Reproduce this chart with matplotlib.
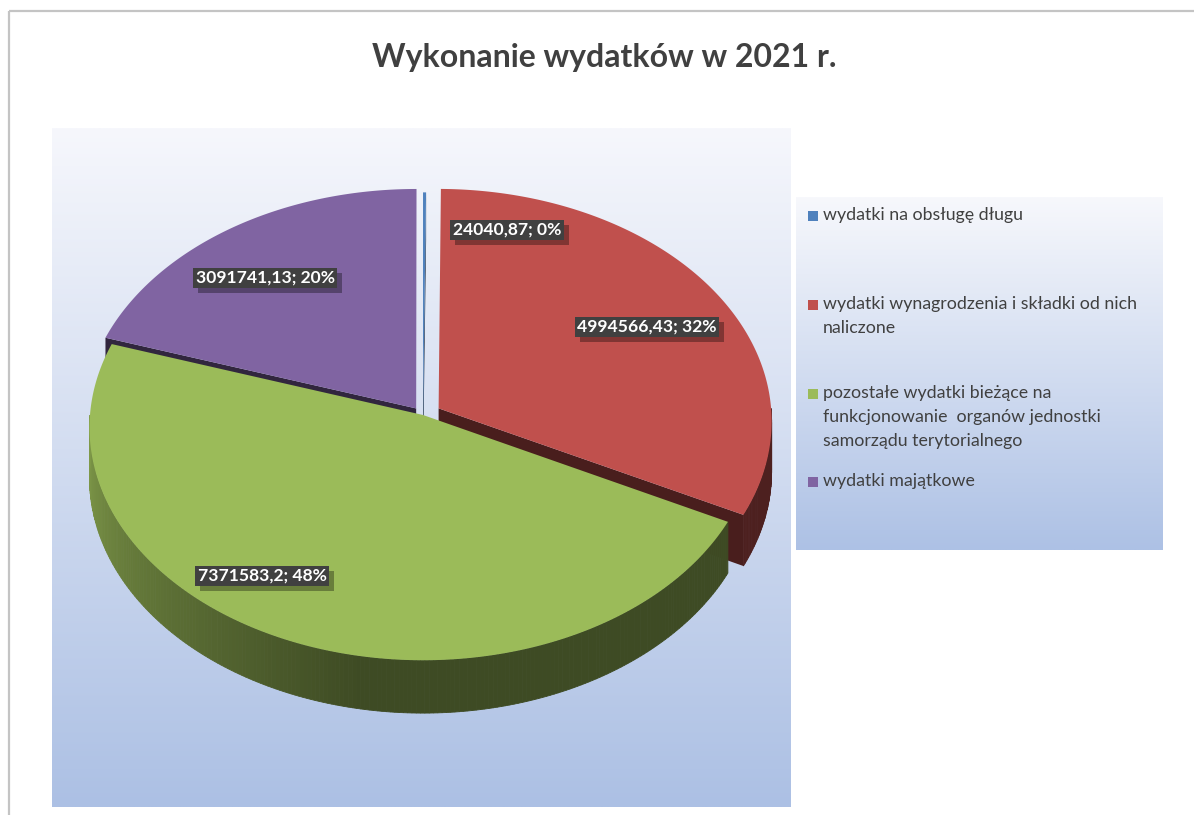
import numpy as np
import matplotlib
matplotlib.use("Agg")
import matplotlib.pyplot as plt
from matplotlib.patches import Polygon, Rectangle

plt.rcParams['font.family'] = ['Lato', 'DejaVu Sans']

# ---------------- data ----------------
title = "Wykonanie wydatków w 2021 r."
categories = [
    "wydatki na obsługę długu",
    "wydatki wynagrodzenia i składki od nich\nnaliczone",
    "pozostałe wydatki bieżące na\nfunkcjonowanie  organów jednostki\nsamorządu terytorialnego",
    "wydatki majątkowe",
]
values = [24040.87, 4994566.43, 7371583.2, 3091741.13]
value_labels = ["24040,87", "4994566,43", "7371583,2", "3091741,13"]
colors = ["#4f81bd", "#c0504d", "#9bbb59", "#8064a2"]
explode = [0.012, 0.055, 0.0, 0.035]

# ---------------- layout ----------------
W, H = 1194, 815
fig = plt.figure(figsize=(W / 100, H / 100), dpi=100)
ax = fig.add_axes([0, 0, 1, 1])
ax.set_xlim(0, W)
ax.set_ylim(H, 0)
ax.axis('off')

# outer chart border
ax.add_patch(Rectangle((9, 10.5), W + 20, H + 20, fill=False, ec="#c4c4c4", lw=1.6, zorder=0))

def vgrad(x0, x1, y0, y1, ctop, cbot, z=1):
    n = 256
    t = np.linspace(0, 1, n)[:, None]
    ctop = np.array(ctop) / 255.0
    cbot = np.array(cbot) / 255.0
    img = ctop[None, None, :] * (1 - t[:, :, None]) + cbot[None, None, :] * t[:, :, None]
    img = np.repeat(img, 2, axis=1)
    ax.imshow(img, extent=[x0, x1, y1, y0], aspect='auto', zorder=z, interpolation='bilinear')

# plot area gradient
vgrad(52, 791, 128, 807, (246, 247, 252), (172, 192, 228), z=1)
# legend gradient
vgrad(796, 1163, 197, 550, (247, 248, 252), (173, 193, 229), z=1)
ax.set_xlim(0, W)
ax.set_ylim(H, 0)

# ---------------- 3D pie geometry ----------------
CX, CY = 423, 415
RX, RY = 333, 232
K = 0.054
DEPTH = 50

def proj(t, z=0.0, ox=0.0, oy=0.0, r=1.0):
    X = r * np.sin(t) + ox
    Y = r * np.cos(t) + oy
    w = 1 + K * Y
    return CX + RX * X / w, CY - RY * Y / w + DEPTH * z / w

def rgb(c):
    return np.array(matplotlib.colors.to_rgb(c))

total = float(np.sum(values))
fr = np.array(values) / total
bounds = np.concatenate([[0], np.cumsum(fr)]) * 2 * np.pi

offs = []
for i in range(len(values)):
    mid = 0.5 * (bounds[i] + bounds[i + 1])
    offs.append((explode[i] * np.sin(mid), explode[i] * np.cos(mid)))

def shade_factor(i, t):
    deg = np.degrees(t)
    if i == 2:  # green wall: light on left, dark toward front/right
        if deg <= 190:
            return 0.40
        return 0.40 + 0.42 * min(1.0, (deg - 190) / 80.0)
    return 0.40

# cut faces (behind)
for i in range(len(values)):
    ox, oy = offs[i]
    t0, t1 = bounds[i], bounds[i + 1]
    base = rgb(colors[i])
    for t, vis in ((t0, np.sin(t0) < -1e-6), (t1, np.sin(t1) > 1e-6)):
        if not vis:
            continue
        pts = [proj(0, 0, ox, oy, r=0), proj(t, 0, ox, oy), proj(t, 1, ox, oy), proj(0, 1, ox, oy, r=0)]
        ax.add_patch(Polygon(pts, closed=True, fc=base * 0.38, ec='none', zorder=3))

# outer walls (front half only)
for i in range(len(values)):
    ox, oy = offs[i]
    a0 = max(bounds[i], np.pi / 2)
    a1 = min(bounds[i + 1], 3 * np.pi / 2)
    if a1 <= a0:
        continue
    base = rgb(colors[i])
    n = max(2, int((a1 - a0) / np.radians(0.7)))
    ts = np.linspace(a0, a1, n + 1)
    for j in range(n):
        ta, tb = ts[j], ts[j + 1]
        pts = [proj(ta, 0, ox, oy), proj(tb, 0, ox, oy), proj(tb, 1, ox, oy), proj(ta, 1, ox, oy)]
        f = shade_factor(i, 0.5 * (ta + tb))
        c = np.clip(base * f, 0, 1)
        ax.add_patch(Polygon(pts, closed=True, fc=c, ec=c, lw=0.6, zorder=4))

# top faces
for i in range(len(values)):
    ox, oy = offs[i]
    t0, t1 = bounds[i], bounds[i + 1]
    ts = np.linspace(t0, t1, max(3, int((t1 - t0) / np.radians(0.5)) + 2))
    pts = [proj(0, 0, ox, oy, r=0)] + [proj(t, 0, ox, oy) for t in ts]
    ax.add_patch(Polygon(pts, closed=True, fc=colors[i], ec='none', zorder=5))

# ---------------- data labels ----------------
label_pos = [(507, 230), (647, 327), (262, 576), (265, 278)]
pcts = np.round(fr * 100).astype(int)
label_texts = []
for i in range(len(values)):
    txt = f"{value_labels[i]}; {pcts[i]}%"
    x, y = label_pos[i]
    t = ax.text(x, y, txt, ha='center', va='center', fontsize=12.6, fontweight='bold',
                color='white', zorder=7,
                bbox=dict(boxstyle='square,pad=0.14', fc='#404040', ec='none'))
    label_texts.append(t)

# drop shadows behind label boxes
fig.canvas.draw()
renderer = fig.canvas.get_renderer()
inv = ax.transData.inverted()
for t in label_texts:
    bb = t.get_bbox_patch().get_window_extent(renderer)
    (x0, y0), (x1, y1) = inv.transform([[bb.x0, bb.y0], [bb.x1, bb.y1]])
    xa, xb = min(x0, x1), max(x0, x1)
    ya, yb = min(y0, y1), max(y0, y1)
    ax.add_patch(Rectangle((xa + 5, ya + 5), xb - xa, yb - ya, fc=(0, 0, 0, 0.33),
                           ec='none', zorder=6))

# ---------------- title ----------------
ax.text(604, 58, title, ha='center', va='center', fontsize=23, fontweight='bold',
        color='#404040', zorder=8)

# ---------------- legend ----------------
leg_y = [216, 305, 394, 482]
for i, lab in enumerate(categories):
    y = leg_y[i]
    ax.add_patch(Rectangle((808, y - 5), 10, 10, fc=colors[i], ec='none', zorder=8))
    ax.text(823, y - 9, lab, ha='left', va='top', fontsize=12.8, color='#404040',
            linespacing=1.62, zorder=8)

fig.savefig("out.png", dpi=100)
